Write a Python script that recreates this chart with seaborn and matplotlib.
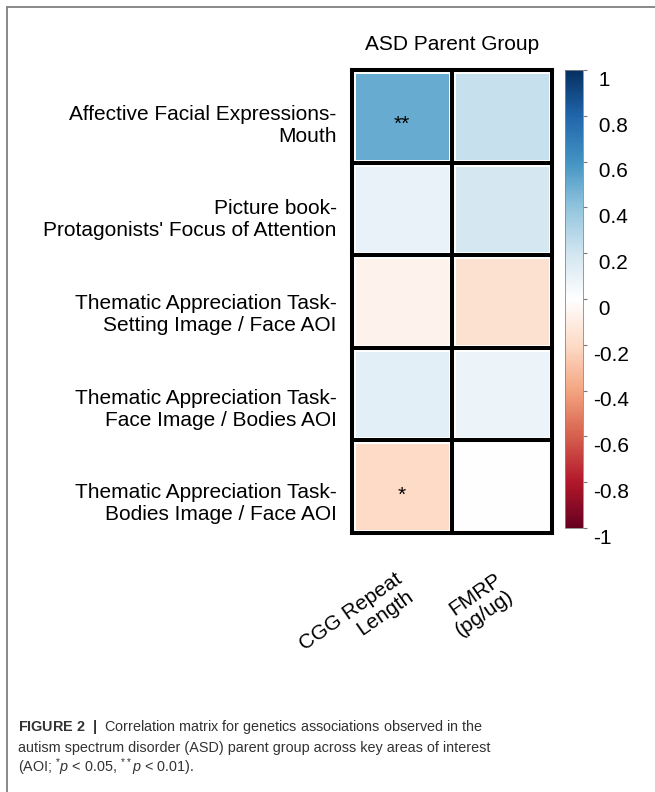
import numpy as np
import pandas as pd
import matplotlib
matplotlib.use("Agg")
import matplotlib.pyplot as plt
import matplotlib.transforms as mtransforms
from matplotlib import font_manager
from matplotlib.colors import LinearSegmentedColormap
from matplotlib.lines import Line2D
import seaborn as sns

# ---------------------------------------------------------------------
# Data
# ---------------------------------------------------------------------
row_labels = ["Affective Facial Expressions-\nMouth",
              "Picture book-\nProtagonists' Focus of Attention",
              "Thematic Appreciation Task-\nSetting Image / Face AOI",
              "Thematic Appreciation Task-\nFace Image / Bodies AOI",
              "Thematic Appreciation Task-\nBodies Image / Face AOI"]
col_labels = ["CGG Repeat\nLength", "FMRP\n(pg/ug)"]

cgg_r = [0.50, 0.10, -0.07, 0.12, -0.20]
fmrp_r = [0.23, 0.18, -0.17, 0.08, 0.00]
cgg_sig = ["**", "", "", "", "*"]
fmrp_sig = ["", "", "", "", ""]

cbar_ticks = [1, 0.8, 0.6, 0.4, 0.2, 0, -0.2, -0.4, -0.6, -0.8, -1]

title = "ASD Parent Group"
caption = [r"$\mathbf{FIGURE\ 2\ \ |}$  Correlation matrix for genetics associations observed in the",
           "autism spectrum disorder (ASD) parent group across key areas of interest",
           r"(AOI; ${}^{*}\mathit{p}$ < 0.05, ${}^{**}\mathit{p}$ < 0.01)."]

# corrplot-style RdBu palette (white centre)
col2_rdbu = ["#67001F", "#B2182B", "#D6604D", "#F4A582", "#FDDBC7", "#FFFFFF",
             "#D1E5F0", "#92C5DE", "#4393C3", "#2166AC", "#053061"]

# ---------------------------------------------------------------------
sns.set_style("white")
plt.rcParams["font.family"] = ["Liberation Sans", "DejaVu Sans"]
plt.rcParams["axes.unicode_minus"] = False
plt.rcParams["text.color"] = "black"
plt.rcParams["xtick.color"] = "black"
plt.rcParams["ytick.color"] = "black"

names = {f.name for f in font_manager.fontManager.ttflist}
if "Liberation Sans Narrow" in names:
    cap_font, cap_size = "Liberation Sans Narrow", 12
else:
    cap_font, cap_size = "Liberation Sans", 10.4
plt.rcParams["mathtext.fontset"] = "custom"
plt.rcParams["mathtext.rm"] = cap_font
plt.rcParams["mathtext.it"] = cap_font + ":italic"
plt.rcParams["mathtext.bf"] = cap_font + ":bold"

cmap = LinearSegmentedColormap.from_list("col2_rdbu", col2_rdbu)

W, H = 655, 792
fig = plt.figure(figsize=(W / 100, H / 100), dpi=100)
ax = fig.add_axes([352 / W, 1 - 533 / H, 200 / W, 463 / H])
cax = fig.add_axes([565 / W, 1 - 528 / H, 18 / W, 458 / H])

corr = pd.DataFrame({col_labels[0]: cgg_r, col_labels[1]: fmrp_r}, index=row_labels)
sig = pd.DataFrame({col_labels[0]: cgg_sig, col_labels[1]: fmrp_sig}, index=row_labels)

sns.heatmap(corr, ax=ax, cbar_ax=cax, cmap=cmap, vmin=-1, vmax=1,
            annot=sig, fmt="", annot_kws={"fontsize": 15, "color": "black"},
            linewidths=5, linecolor="white")

# stars sit a little lower in the cell, as in corrplot
for t in ax.texts:
    t.set_transform(t.get_transform() +
                    mtransforms.ScaledTranslation(0, -6 / 72, fig.dpi_scale_trans))

# thick black grid like corrplot
nr, nc = corr.shape
hl = ax.hlines(range(nr + 1), 0, nc, colors="black", linewidth=2.9, clip_on=False)
vl = ax.vlines(range(nc + 1), 0, nr, colors="black", linewidth=2.9, clip_on=False)
hl.set_capstyle("projecting")
vl.set_capstyle("projecting")

ax.set_xlabel("")
ax.set_ylabel("")
ax.set_yticklabels(row_labels, rotation=0, fontsize=15, ha="right",
                   multialignment="right", linespacing=1.2)
ax.set_xticklabels(col_labels, rotation=35, fontsize=15, ha="right",
                   va="center", rotation_mode="anchor",
                   multialignment="right", linespacing=1.1)
ax.tick_params(axis="y", length=0, pad=11)
ax.tick_params(axis="x", length=0, pad=38)
for i, lbl in enumerate(ax.get_yticklabels()):
    dy = (9 + 2 * i) * 0.72
    lbl.set_transform(lbl.get_transform() +
                      mtransforms.ScaledTranslation(0, -dy / 72, fig.dpi_scale_trans))
for lbl in ax.get_xticklabels():
    lbl.set_transform(lbl.get_transform() +
                      mtransforms.ScaledTranslation(4 / 100, 0, fig.dpi_scale_trans))

cbar = ax.collections[0].colorbar
cbar.set_ticks(cbar_ticks)
cbar.set_ticklabels([f"{t:g}" if t < 0 else f" {t:g}" for t in cbar_ticks])
cax.tick_params(labelsize=15, length=3, width=0.8, color="#777777", pad=4)
cbar.outline.set_linewidth(0.6)
cbar.outline.set_edgecolor("#888888")
for lbl in cax.get_yticklabels():
    lbl.set_transform(lbl.get_transform() +
                      mtransforms.ScaledTranslation(0, -6 / 72, fig.dpi_scale_trans))

fig.text(452 / W, 1 - 44 / H, title, ha="center", va="center", fontsize=15)

# caption
for i, line in enumerate(caption):
    fig.text(18 / W, 1 - (731 + 20.7 * i) / H, line, ha="left", va="baseline",
             fontsize=cap_size, family=cap_font, color="#333333")

# page frame (top and left rules)
fig.add_artist(Line2D([7 / W, 1], [1 - 7 / H, 1 - 7 / H], transform=fig.transFigure,
                      color="#808080", linewidth=1.3))
fig.add_artist(Line2D([7 / W, 7 / W], [0, 1 - 7 / H], transform=fig.transFigure,
                      color="#808080", linewidth=1.3))

fig.savefig("out.png", dpi=100)
